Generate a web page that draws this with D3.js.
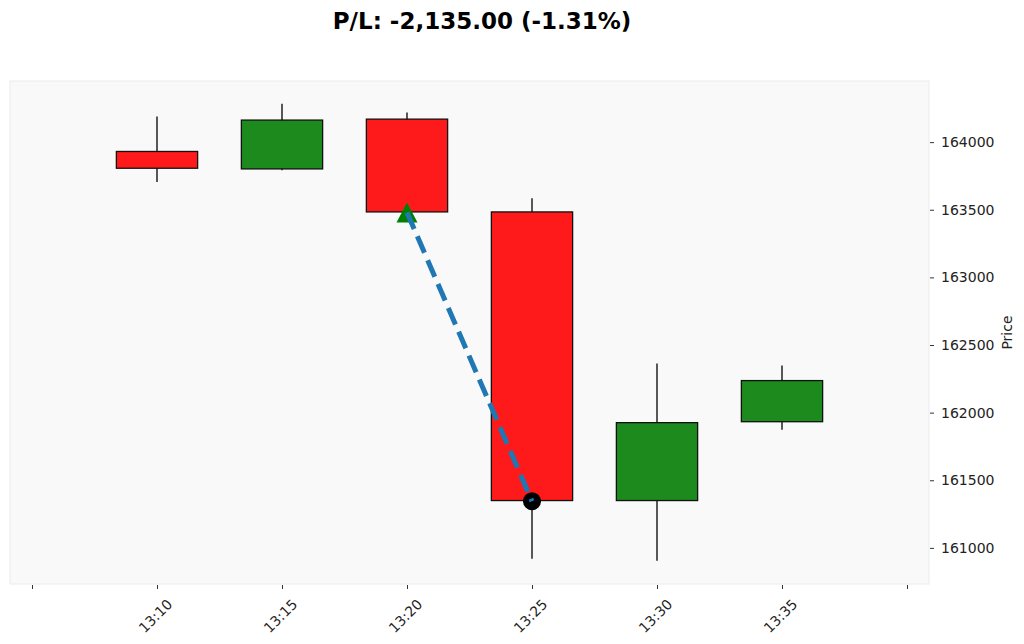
<!DOCTYPE html>
<meta charset="utf-8">
<head>
  <title>P/L candles</title>
</head>

<style>
body {
  margin: 0;
  font-family: "DejaVu Sans", sans-serif;
  background: #fff;
}
svg text {
  font-family: "DejaVu Sans", sans-serif;
}
</style>

<body>
  <div id="content">
    <svg width="1024" height="644"></svg>
  </div>

  <script src="https://cdnjs.cloudflare.com/ajax/libs/d3/7.8.5/d3.min.js"></script>

  <script>
// data
var times  = ['13:10', '13:15', '13:20', '13:25', '13:30', '13:35'];
var opens  = [163931, 163802, 164170, 163484, 161350, 161933];
var highs  = [164190, 164284, 164220, 163585, 162363, 162348];
var lows   = [163706, 163793, 163484, 160919, 160904, 161874];
var closes = [163807, 164163, 163484, 161350, 161926, 162237];
var yTicks = [161000, 161500, 162000, 162500, 163000, 163500, 164000];

var entryTime = '13:20', entryPrice = 163480;
var exitTime = '13:25', exitPrice = 161345;

var parse = d3.timeParse('%H:%M');
var fmt = d3.timeFormat('%H:%M');
var loc = d3.formatLocale({decimal: '.', thousands: ',', grouping: [3], currency: ['', ''], minus: '-'});

var candles = times.map(function(t, i) {
  return {t: parse(t), o: opens[i], h: highs[i], l: lows[i], c: closes[i]};
});

var pl = exitPrice - entryPrice;
var plPct = pl / entryPrice * 100;

var svg = d3.select('#content svg');
var m = {left: 10, top: 81, right: 929, bottom: 584};

// 5 min ~ 125px, plot pads ~22px outside 13:05 / 13:40
var t0 = parse('13:05'), t1 = parse('13:40');
var pad = 22 / 875 * (t1 - t0);
var x = d3.scaleTime()
  .domain([new Date(+t0 - pad), new Date(+t1 + pad)])
  .range([m.left, m.right]);

var y = d3.scaleLinear()
  .domain([160733, 164452])
  .range([m.bottom, m.top]);

var step = x(parse('13:15')) - x(parse('13:10'));
var bw = step * 0.65;

// plot background
svg.append('rect')
  .attr('x', m.left).attr('y', m.top)
  .attr('width', m.right - m.left).attr('height', m.bottom - m.top)
  .attr('fill', '#f9f9f9')
  .attr('stroke', '#ebebeb')
  .attr('stroke-width', 1);

// title
svg.append('text')
  .attr('x', 482).attr('y', 29)
  .attr('text-anchor', 'middle')
  .style('font-size', '23px')
  .style('font-weight', 'bold')
  .text('P/L: ' + loc.format(',.2f')(pl) + ' (' + loc.format('.2f')(plPct) + '%)');

// x axis
var xTickVals = d3.timeMinute.every(5).range(t0, new Date(+t1 + 1));
var xAxis = d3.axisBottom(x)
  .tickValues(xTickVals)
  .tickSize(4)
  .tickFormat(function(d) { return times.indexOf(fmt(d)) >= 0 ? fmt(d) : ''; });

var gx = svg.append('g')
  .attr('transform', 'translate(0,' + (m.bottom + 1) + ')')
  .attr('font-family', null)
  .call(xAxis);
gx.select('.domain').remove();
gx.selectAll('.tick line').attr('stroke', '#333');
gx.selectAll('.tick text')
  .style('font-size', '14px')
  .attr('fill', '#222')
  .attr('text-anchor', 'middle')
  .attr('y', 0)
  .attr('dy', '0.35em')
  .attr('transform', 'translate(-2,31) rotate(-45)');

// y axis on right
var yAxis = d3.axisRight(y)
  .tickValues(yTicks)
  .tickSize(4)
  .tickPadding(7)
  .tickFormat(d3.format('d'));

var gy = svg.append('g')
  .attr('transform', 'translate(' + (m.right + 1) + ',0)')
  .call(yAxis);
gy.select('.domain').remove();
gy.selectAll('.tick line').attr('stroke', '#333');
gy.selectAll('.tick text')
  .style('font-size', '14px')
  .attr('fill', '#222');

svg.append('text')
  .attr('transform', 'translate(1012,' + ((m.top + m.bottom) / 2) + ') rotate(-90)')
  .attr('text-anchor', 'middle')
  .style('font-size', '14px')
  .attr('fill', '#222')
  .text('Price');

// candles
var g = svg.append('g');

g.selectAll('line.wick')
  .data(candles)
  .enter().append('line')
  .attr('class', 'wick')
  .attr('x1', function(d) { return x(d.t); })
  .attr('x2', function(d) { return x(d.t); })
  .attr('y1', function(d) { return y(d.h); })
  .attr('y2', function(d) { return y(d.l); })
  .attr('stroke', '#000')
  .attr('stroke-width', 1.3);

g.selectAll('rect.body')
  .data(candles)
  .enter().append('rect')
  .attr('class', 'body')
  .attr('x', function(d) { return x(d.t) - bw / 2; })
  .attr('width', bw)
  .attr('y', function(d) { return y(Math.max(d.o, d.c)); })
  .attr('height', function(d) { return Math.abs(y(d.o) - y(d.c)); })
  .attr('fill', function(d) { return d.c >= d.o ? '#1c8a1c' : '#fe1a1a'; })
  .attr('stroke', '#111')
  .attr('stroke-width', 1.3);

// entry / exit markers
var ex = x(parse(entryTime)), ey = y(entryPrice);
var xx = x(parse(exitTime)), xy = y(exitPrice);

svg.append('path')
  .attr('d', 'M0,-10L10.5,10L-10.5,10Z')
  .attr('transform', 'translate(' + ex + ',' + ey + ')')
  .attr('fill', 'green');

svg.append('circle')
  .attr('cx', xx).attr('cy', xy)
  .attr('r', 9)
  .attr('fill', 'black');

svg.append('line')
  .attr('x1', ex).attr('y1', ey)
  .attr('x2', xx).attr('y2', xy)
  .attr('stroke', '#1f77b4')
  .attr('stroke-width', 5)
  .attr('stroke-dasharray', '18,8');
  </script>
</body>
</html>
